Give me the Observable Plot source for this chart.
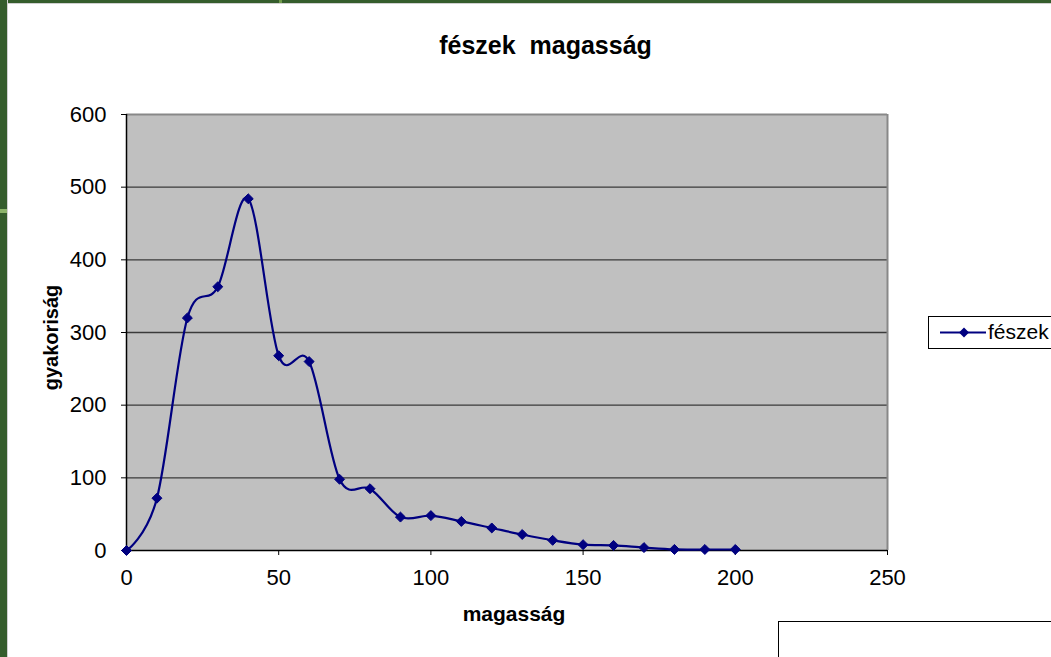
<!DOCTYPE html>
<html>
<head>
<meta charset="utf-8">
<script src="https://cdn.jsdelivr.net/npm/d3@7"></script>
<script src="https://cdn.jsdelivr.net/npm/@observablehq/plot@0.6"></script>
<style>
  html, body { margin: 0; padding: 0; background: #ffffff; }
  #wrap { position: relative; width: 1051px; height: 657px; overflow: hidden; background: #fff;
          font-family: "Liberation Sans", Arial, sans-serif; }
  #chart { position: absolute; left: 0; top: 0; }
  .bl { position: absolute; left: 0; top: 0; width: 7px; height: 657px; background: #355d2c; border-right: 1px solid #d0d0d0; }
  .bt { position: absolute; left: 0; top: 0; width: 1051px; height: 3px; background: #355d2c; border-bottom: 1px solid #d0d0d0; }
  .mark1 { position: absolute; left: 0; top: 209px; width: 7px; height: 4px; background: #8db46a; }
  .mark2 { position: absolute; left: 279px; top: 0; width: 3px; height: 3px; background: #6f9a4a; }
  #title { position: absolute; left: 0; width: 1091px; top: 30px; text-align: center; font-weight: bold;
           font-size: 25px; white-space: pre; color: #000; line-height: 30px; }
  #legend { position: absolute; left: 928px; top: 316px; width: 140px; height: 31px; border: 1px solid #000; background: #fff; }
  #legend svg { position: absolute; left: 0; top: 0; }
  #legend span { position: absolute; left: 59px; top: 3px; font-size: 21px; line-height: 24px; color: #000; }
  #box2 { position: absolute; left: 778px; top: 621px; width: 300px; height: 60px; border: 1px solid #000; background: #fff; }
</style>
</head>
<body>
<div id="wrap">
  <div id="chart"></div>
  <div class="bt"></div>
  <div class="bl"></div>
  <div class="mark1"></div>
  <div class="mark2"></div>
  <div id="title"></div>
  <div id="legend"><svg width="60" height="31"><line x1="11" y1="15.5" x2="57" y2="15.5" stroke="#000080" stroke-width="2"/><path d="M35,10.5 L40,15.5 L35,20.5 L30,15.5 Z" fill="#000080"/></svg><span id="legtext"></span></div>
  <div id="box2"></div>
</div>
<script>
// ---- data ----
const heights = [0, 10, 20, 30, 40, 50, 60, 70, 80, 90, 100, 110, 120, 130, 140, 150, 160, 170, 180, 190, 200];
const counts  = [0, 72, 320, 363, 484, 268, 260, 98, 85, 46, 48, 40, 31, 22, 14, 8, 7, 4, 1.5, 1.4, 1.4];
const xTicks = [0, 50, 100, 150, 200, 250];
const yTicks = [0, 100, 200, 300, 400, 500, 600];
const gridLines = [100, 200, 300, 400, 500];
const titleText = "fészek  magasság";
const xLabel = "magasság";
const yLabel = "gyakoriság";
const seriesName = "fészek";

const data = heights.map((h, i) => ({h, c: counts[i]}));

document.getElementById("title").textContent = titleText;
document.getElementById("legtext").textContent = seriesName;

const navy = "#000080";

const chart = Plot.plot({
  width: 1051,
  height: 657,
  marginLeft: 126,
  marginRight: 164,
  marginTop: 114,
  marginBottom: 107,
  style: {fontFamily: "'Liberation Sans', Arial, sans-serif", color: "#000", background: "transparent"},
  x: {domain: [0, 250], ticks: xTicks},
  y: {domain: [0, 600], ticks: yTicks},
  marks: [
    Plot.frame({fill: "#c0c0c0", stroke: "none"}),
    Plot.ruleY(gridLines, {stroke: "#3a3a3a", strokeWidth: 1.3}),
    Plot.ruleY([600], {stroke: "#888888", strokeWidth: 2}),
    Plot.ruleX([250], {stroke: "#888888", strokeWidth: 2}),
    Plot.ruleX([0], {stroke: "#000", strokeWidth: 1.5}),
    Plot.ruleY([0], {stroke: "#000", strokeWidth: 1.5}),
    Plot.axisX({ticks: xTicks, tickSize: 5, tickPadding: 14, fontSize: 22, label: null, tickFormat: d => String(d)}),
    Plot.axisY({ticks: yTicks, tickSize: 5, tickPadding: 15, fontSize: 22, label: null, tickFormat: d => String(d)}),
    Plot.text([xLabel], {frameAnchor: "bottom", textAnchor: "middle", lineAnchor: "middle", dx: 7, dy: 64, text: d => d, fontSize: 21, fontWeight: "bold", fill: "#000"}),
    Plot.text([yLabel], {frameAnchor: "left", textAnchor: "middle", lineAnchor: "middle", dx: -75, dy: 5, rotate: -90, text: d => d, fontSize: 20, fontWeight: "bold", fill: "#000"}),
    Plot.line(data, {x: "h", y: "c", stroke: navy, strokeWidth: 2.2, curve: "cardinal", tension: 0}),
    Plot.dot(data, {x: "h", y: "c", symbol: "diamond2", r: 4.5, fill: navy, stroke: navy, strokeWidth: 1})
  ]
});
document.getElementById("chart").appendChild(chart);
</script>
</body>
</html>
